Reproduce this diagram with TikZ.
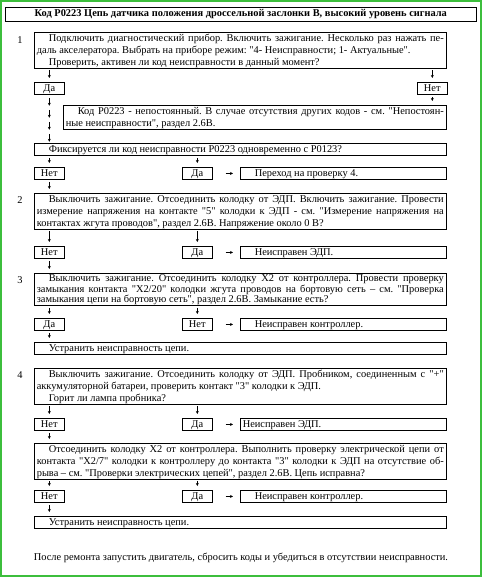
\documentclass[tikz,border=0pt]{standalone}
\usepackage{fontspec}
\setmainfont{Liberation Serif}[Ligatures=TeXOff]
\usetikzlibrary{shadows,arrows.meta}
\definecolor{framegreen}{RGB}{60,190,60}
\frenchspacing
\tikzset{
  box/.style={draw, fill=white, line width=0.6pt,
    drop shadow={shadow xshift=0.7pt, shadow yshift=-0.7pt, opacity=1, fill=black}},
  para/.style={box, anchor=north west, text width=407pt, align=justify,
    inner xsep=2.5pt, inner ysep=0.8pt, execute at begin node={\rule{0pt}{8pt}}},
  single/.style={para, text height=7.8pt, text depth=2.4pt, inner ysep=1pt},
  ans/.style={box, anchor=north west, minimum width=30pt, text height=7.8pt, text depth=2.4pt,
    inner xsep=0pt, inner ysep=1pt},
  arr/.style={-{Stealth[length=3pt,width=3pt]}, line width=0.5pt},
  dn/.style={arr, shorten <=2pt, shorten >=4pt},
  rt/.style={arr, shorten <=13pt, shorten >=7pt},
  steplbl/.style={inner sep=0pt},
}
\newcommand{\ind}{\hspace*{12pt}}
\begin{document}
\begin{tikzpicture}[x=1pt, y=-1pt, font=\fontsize{10.4}{12}\selectfont]
    \useasboundingbox (0,0) rectangle (482,577);
    % Green frame round the page
    \draw[framegreen, line width=2pt] (1,1) rectangle (481,576);

    % Title
    \node[box, anchor=north west, minimum width=471pt, minimum height=14pt, inner sep=0pt,
      font=\bfseries\fontsize{10.4}{12}\selectfont] (title) at (5,7)
      {Код P0223 Цепь датчика положения дроссельной заслонки B, высокий уровень сигнала};

    % Step 1
    \node[steplbl] (s1) at (20,40) {1};
    \node[para] (q1) at (34,32) {\ind Подключить диагностический прибор. Включить зажигание. Несколько раз нажать пе-\linebreak даль акселератора. Выбрать на приборе режим: "4- Неисправности; 1- Актуальные".\\ \ind Проверить, активен ли код неисправности в данный момент?};
    \node[ans] (da1) at (34,82) {Да};
    \node[ans] (net1) at (417,82) {Нет};
    \node[para, text width=378pt] (rare1) at (63,105) {\ind Код P0223 - непостоянный. В случае отсутствия других кодов - см. "Непостоян-\linebreak ные неисправности", раздел 2.6В.};
    \node[single] (q1b) at (34,143) {\ind Фиксируется ли код неисправности P0223 одновременно с P0123?};
    \node[ans] (net2) at (34,167) {Нет};
    \node[ans] (da2) at (182,167) {Да};
    \node[single, text width=201pt] (go4) at (240,167) {\ind Переход на проверку 4.};

    % Step 2
    \node[steplbl] (s2) at (20,200) {2};
    \node[para] (q2) at (34,193) {\ind Выключить зажигание. Отсоединить колодку от ЭДП. Включить зажигание. Провести\linebreak измерение напряжения на контакте "5" колодки к ЭДП - см. "Измерение напряжения на\linebreak контактах жгута проводов", раздел 2.6В. Напряжение около 0 В?};
    \node[ans] (net3) at (34,246) {Нет};
    \node[ans] (da3) at (182,246) {Да};
    \node[single, text width=201pt] (bad3) at (240,246) {\ind Неисправен ЭДП.};

    % Step 3
    \node[steplbl] (s3) at (20,280) {3};
    \node[para, inner ysep=0.5pt, font=\fontsize{10.4}{10.5}\selectfont,
      execute at begin node={\rule{0pt}{8pt}}] (q3) at (34,273) {\ind Выключить зажигание. Отсоединить колодку X2 от контроллера. Провести проверку\linebreak замыкания контакта "X2/20" колодки жгута проводов на бортовую сеть – см. "Проверка\linebreak замыкания цепи на бортовую сеть", раздел 2.6В. Замыкание есть?};
    \node[ans] (da4) at (34,318) {Да};
    \node[ans] (net4) at (182,318) {Нет};
    \node[single, text width=201pt] (bad4) at (240,318) {\ind Неисправен контроллер.};
    \node[single] (fix3) at (34,342) {\ind Устранить неисправность цепи.};

    % Step 4
    \node[steplbl] (s4) at (20,375) {4};
    \node[para] (q4) at (34,368) {\ind Выключить зажигание. Отсоединить колодку от ЭДП. Пробником, соединенным с "+"\linebreak аккумуляторной батареи, проверить контакт "3" колодки к ЭДП.\\ \ind Горит ли лампа пробника?};
    \node[ans] (net5) at (34,418) {Нет};
    \node[ans] (da5) at (182,418) {Да};
    \node[single, text width=201pt] (bad5) at (240,418) {Неисправен ЭДП.};
    \node[para] (q5) at (34,443) {\ind Отсоединить колодку X2 от контроллера. Выполнить проверку электрической цепи от\linebreak контакта "X2/7" колодки к контроллеру до контакта "3" колодки к ЭДП на отсутствие об-\linebreak рыва – см. "Проверки электрических цепей", раздел 2.6В. Цепь исправна?};
    \node[ans] (net6) at (34,490) {Нет};
    \node[ans] (da6) at (182,490) {Да};
    \node[single, text width=201pt] (bad6) at (240,490) {\ind Неисправен контроллер.};
    \node[single] (fix6) at (34,516) {\ind Устранить неисправность цепи.};

    \node (fin) at (241,558) {После ремонта запустить двигатель, сбросить коды и убедиться в отсутствии неисправности.};

    % Connectors
    \draw[dn] (q1.south -| da1.north) -- (da1.north);
    \draw[dn] (q1.south -| net1.north) -- (net1.north);
    \draw[dn] (net1.south) -- (net1.south |- rare1.north);
    \foreach \k in {0,...,3}
      \draw[arr] ([yshift={-3pt-\k*12pt}]da1.south) -- ++(0,8);
    \draw[dn] (q1b.south -| net2.north) -- (net2.north);
    \draw[dn] (q1b.south -| da2.north) -- (da2.north);
    \draw[rt] (da2.east) -- (da2.east -| go4.west);
    \draw[dn] (net2.south) -- (net2.south |- q2.north);

    \draw[dn] (q2.south -| net3.north) -- (net3.north);
    \draw[dn] (q2.south -| da3.north) -- (da3.north);
    \draw[rt] (da3.east) -- (da3.east -| bad3.west);
    \draw[dn] (net3.south) -- (net3.south |- q3.north);

    \draw[dn] (q3.south -| da4.north) -- (da4.north);
    \draw[dn] (q3.south -| net4.north) -- (net4.north);
    \draw[rt] (net4.east) -- (net4.east -| bad4.west);
    \draw[dn] (da4.south) -- (da4.south |- fix3.north);

    \draw[dn] (q4.south -| net5.north) -- (net5.north);
    \draw[dn] (q4.south -| da5.north) -- (da5.north);
    \draw[rt] (da5.east) -- (da5.east -| bad5.west);
    \draw[dn] (net5.south) -- (net5.south |- q5.north);

    \draw[dn] (q5.south -| net6.north) -- (net6.north);
    \draw[dn] (q5.south -| da6.north) -- (da6.north);
    \draw[rt] (da6.east) -- (da6.east -| bad6.west);
    \draw[dn] (net6.south) -- (net6.south |- fix6.north);
\end{tikzpicture}
\end{document}
